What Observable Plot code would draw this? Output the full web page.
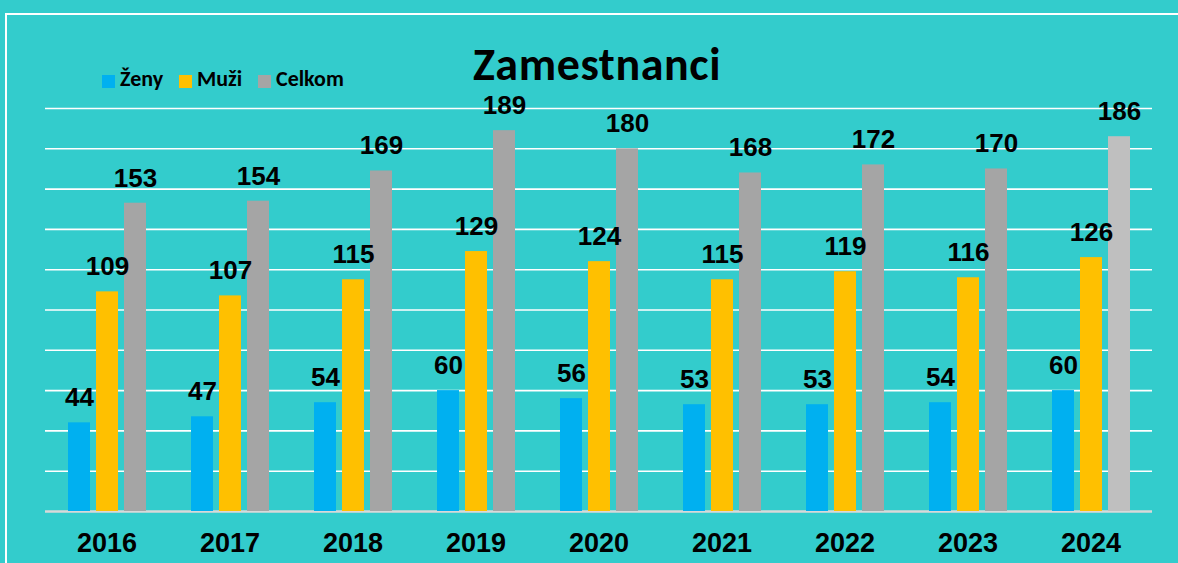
<!DOCTYPE html>
<html>
<head>
<meta charset="utf-8">
<script src="https://cdn.jsdelivr.net/npm/d3@7"></script>
<script src="https://cdn.jsdelivr.net/npm/@observablehq/plot@0.6"></script>
<style>
  html, body { margin: 0; padding: 0; background: #33CCCC; }
  #wrap { position: relative; width: 1178px; height: 563px; overflow: hidden; background: #33CCCC; }
  #frame { position: absolute; left: 5px; top: 13px; width: 1400px; height: 700px; border-top: 2px solid #fff; border-left: 2px solid #fff; }
  #title { position: absolute; left: 0; top: 41px; width: 1194px; text-align: center; font: bold 46px/46px Carlito, Lato, sans-serif; letter-spacing: 0.6px; color: #000; }
  .lg-sw { position: absolute; width: 13px; height: 13px; top: 75px; }
  .lg-tx { position: absolute; top: 68px; font: bold 22px/22px Carlito, Lato, sans-serif; color: #000; white-space: nowrap; }
  #chart { position: absolute; left: 0; top: 0; }
</style>
</head>
<body>
<div id="wrap">
  <div id="frame"></div>
  <div id="chart"></div>
  <div id="title">Zamestnanci</div>
</div>
<script>
const years = ["2016", "2017", "2018", "2019", "2020", "2021", "2022", "2023", "2024"];
const series = ["Ženy", "Muži", "Celkom"];
const zeny = [44, 47, 54, 60, 56, 53, 53, 54, 60];
const muzi = [109, 107, 115, 129, 124, 115, 119, 116, 126];
const celkom = [153, 154, 169, 189, 180, 168, 172, 170, 186];
const colors = ["#00B0F0", "#FFC000", "#A5A5A5"];
const highlightColor = "#BFBFBF";
const highlightYear = "2024";
const gridValues = [20, 40, 60, 80, 100, 120, 140, 160, 180, 200];

const seriesValues = [zeny, muzi, celkom];
const rows = [];
years.forEach((year, i) => {
  series.forEach((s, j) => {
    rows.push({year, series: s, value: seriesValues[j][i],
      color: (s === "Celkom" && year === highlightYear) ? highlightColor : colors[j]});
  });
});

const chart = Plot.plot({
  width: 1178,
  height: 563,
  marginLeft: 41,
  marginRight: 23,
  marginTop: 108,
  marginBottom: 52,
  style: {
    background: "transparent",
    fontFamily: "'Liberation Sans', Arial, sans-serif",
    fontSize: "27px",
    fontWeight: "bold",
    color: "#000",
    overflow: "visible"
  },
  fx: {domain: years, paddingInner: 0, paddingOuter: 0, padding: 0, axis: "bottom", label: null, tickSize: 0, tickPadding: 21},
  x: {domain: series, paddingInner: 0.22, paddingOuter: 0.8, axis: null},
  y: {domain: [0, 200], axis: null},
  color: {type: "identity"},
  marks: [
    Plot.ruleY(gridValues, {stroke: "#ffffff", strokeWidth: 1.6}),
    Plot.ruleY([0], {stroke: "#D9D9D9", strokeWidth: 2.5}),
    Plot.barY(rows, {fx: "year", x: "series", y: "value", fill: "color"}),
    Plot.text(rows, {fx: "year", x: "series", y: "value", text: d => String(d.value), dy: -25,
      fontSize: 26, fontWeight: "bold", fill: "#000"})
  ]
});
document.getElementById("chart").appendChild(chart);

// legend
const wrap = document.getElementById("wrap");
const legendPos = [[102, 120], [179, 197], [258, 276]];
series.forEach((s, j) => {
  const sw = document.createElement("div");
  sw.className = "lg-sw";
  sw.style.left = legendPos[j][0] + "px";
  sw.style.background = colors[j];
  wrap.appendChild(sw);
  const tx = document.createElement("div");
  tx.className = "lg-tx";
  tx.style.left = legendPos[j][1] + "px";
  tx.textContent = s;
  wrap.appendChild(tx);
});
</script>
</body>
</html>
